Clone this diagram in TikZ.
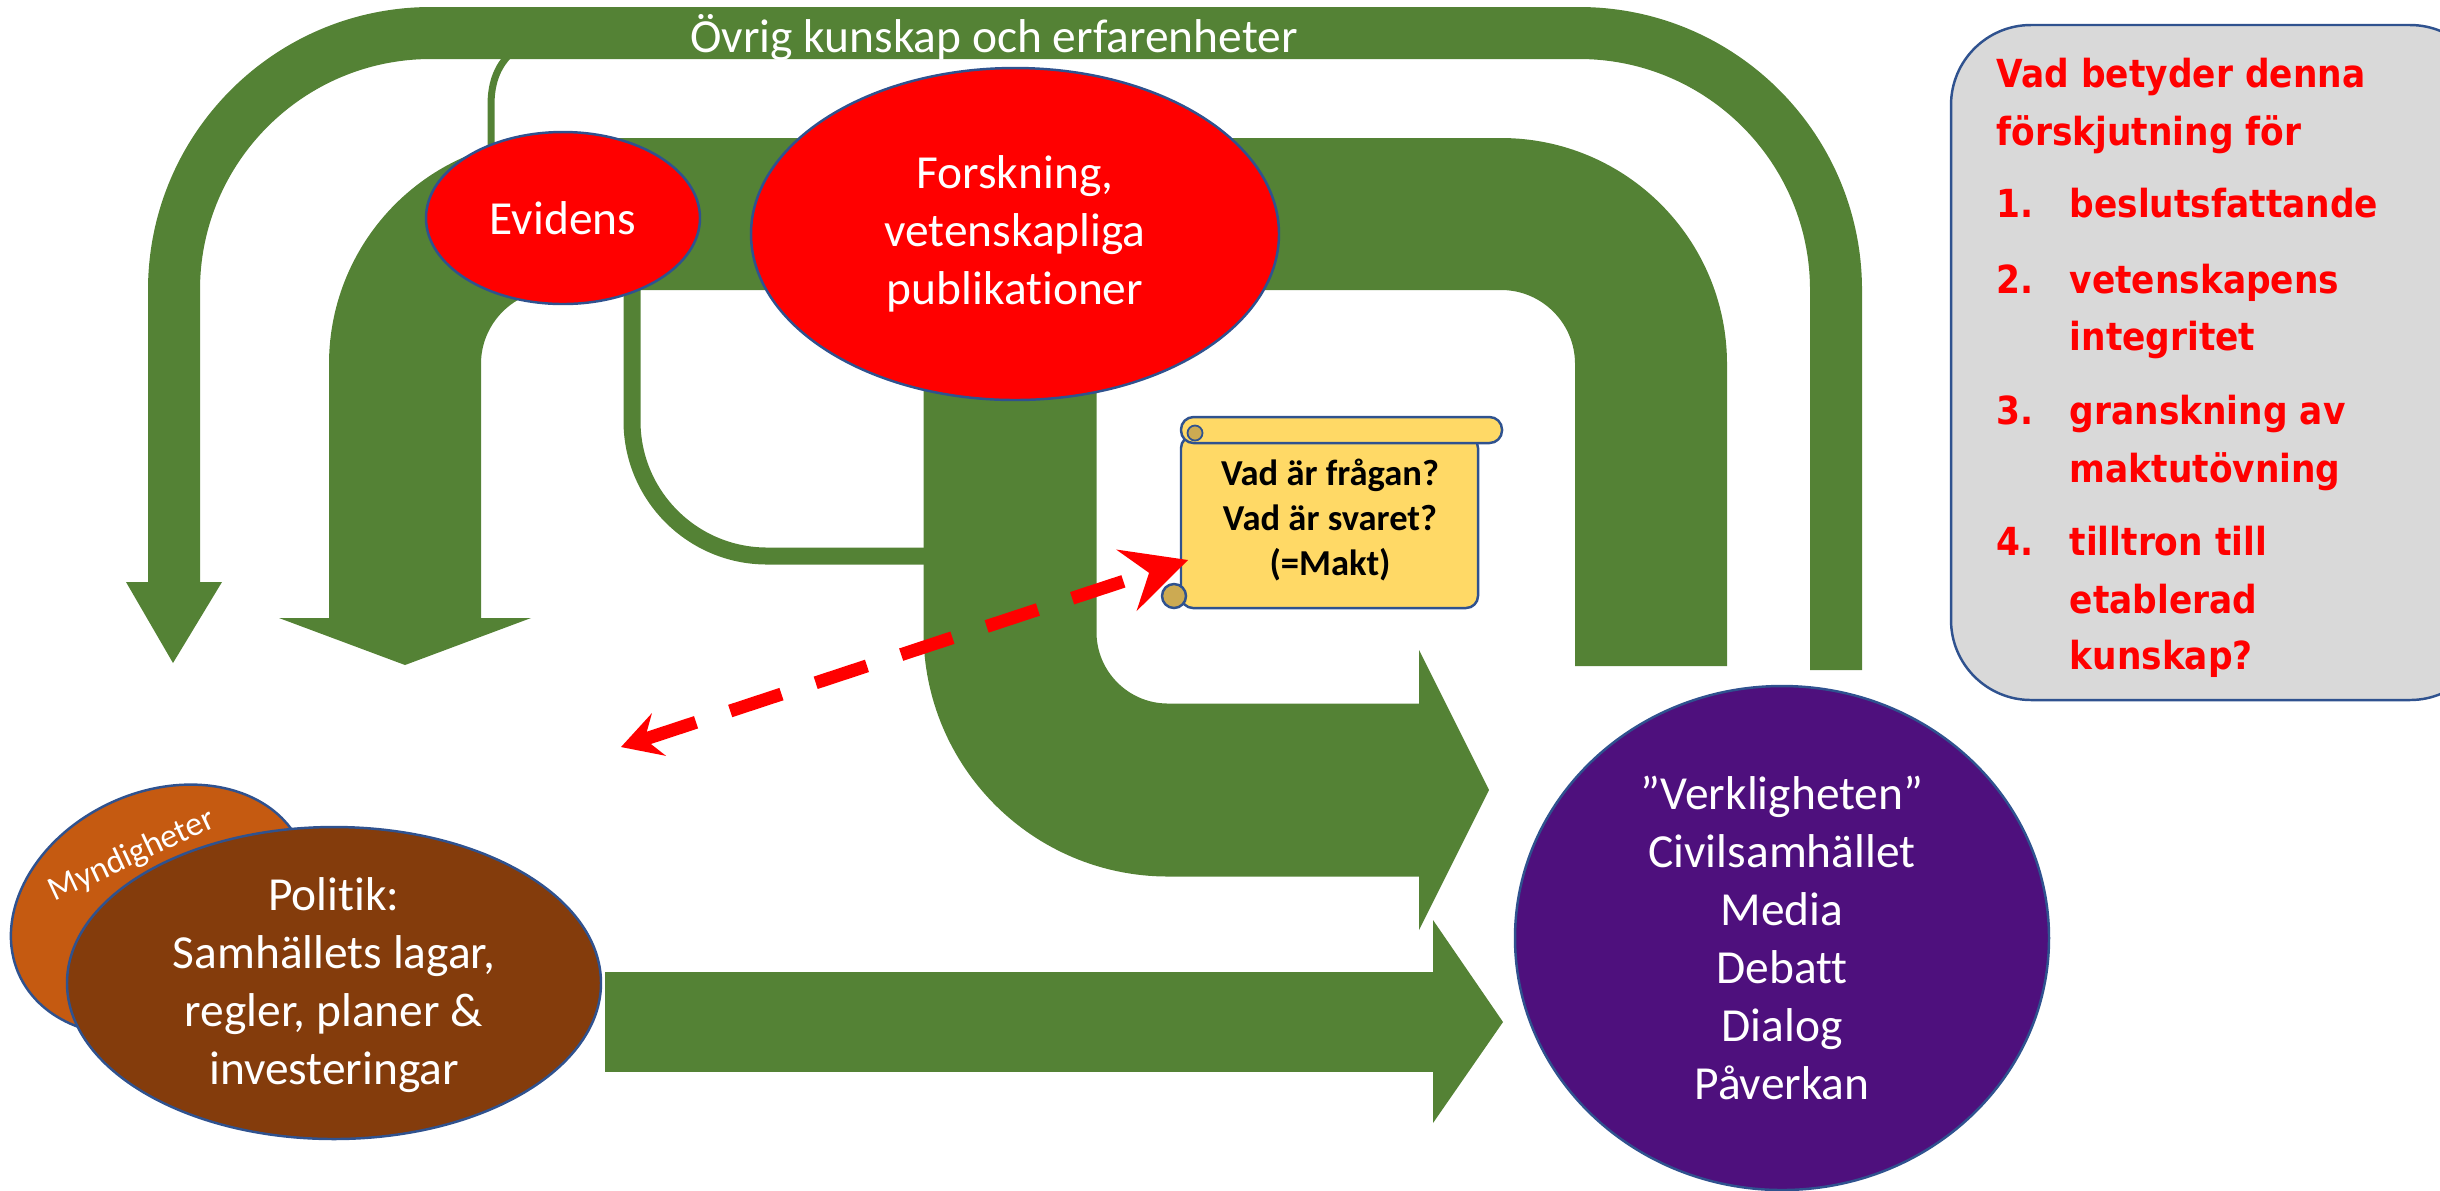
\documentclass[tikz,border=0pt]{standalone}
\usepackage{fontspec}
\setmainfont[Ligatures=NoCommon]{Carlito}
\newfontfamily\boxfont[FakeStretch=0.89]{DejaVu Sans}
\usetikzlibrary{shapes.geometric,arrows.meta}

\definecolor{bandgreen}{HTML}{548235}
\definecolor{rimblue}{HTML}{2F528F}
\definecolor{politikbrown}{HTML}{843C0C}
\definecolor{myndorange}{HTML}{C55A11}
\definecolor{realpurple}{HTML}{4E107D}
\definecolor{scrollyellow}{HTML}{FFD966}
\definecolor{scrollcurl}{HTML}{CCAA52}
\definecolor{boxgray}{HTML}{D9D9D9}

\newcommand{\mainsize}{\fontsize{13.5}{16.5}\selectfont}
\newcommand{\myndsize}{\fontsize{9.7}{11}\selectfont}
\newcommand{\scrollsize}{\fontsize{10.4}{12.8}\selectfont}
\newcommand{\listsize}{\fontsize{11}{14}\selectfont}

\tikzset{
	flowband/.style={draw=bandgreen, line width=#1, line cap=butt},
	tiphead/.style={fill=bandgreen},
	blob/.style={ellipse, draw=rimblue, line width=0.7pt, inner sep=-2mm, text=white, align=center, font=\mainsize},
	scrollbox/.style={fill=scrollyellow, draw=rimblue, line width=0.7pt},
	listline/.style={anchor=base west, text=red, inner sep=0pt, font=\boxfont\bfseries\listsize},
}

\begin{document}
\begin{tikzpicture}[x=0.1mm, y=-0.1mm]
	\useasboundingbox (0,0) rectangle (2440,1190);

	% green flows
	\draw[flowband=5.2mm, rounded corners=25.7mm] (1836,670) -- (1836,33) -- (174,33) -- (174,582);
	\fill[tiphead] (126,582) -- (222,582) -- (173,663) -- cycle;
	\node[text=white, font=\mainsize, anchor=base] (ovrig) at (994,52) {Övrig kunskap och erfarenheter};

	\draw[flowband=15.2mm, rounded corners=15mm] (1651,666) -- (1651,214) -- (405,214) -- (405,618);
	\fill[tiphead] (279,618) -- (531,618) -- (405,665) -- cycle;

	\draw[flowband=0.7mm] (491,160) -- (491,105) .. controls (491,80) and (499,64) .. (512,52);
	\draw[flowband=1.7mm, rounded corners=13.5mm] (632,285) -- (632,556) -- (935,556);

	\draw[flowband=17.3mm, rounded corners=15.8mm] (1010,300) -- (1010,790) -- (1421,790);
	\fill[tiphead] (1419,650) -- (1489,790) -- (1419,930) -- cycle;

	\fill[bandgreen] (605,972) rectangle (1434,1072);
	\fill[tiphead] (1433,920) -- (1503,1022) -- (1433,1123) -- cycle;

	% ellipses
	\node[blob, fill=red, minimum width=27.4mm, minimum height=17.2mm] (evidens) at (563,218) {Evidens};
	\node[blob, fill=red, minimum width=52.8mm, minimum height=33.2mm] (forskning) at (1015,234) {Forskning,\\vetenskapliga\\publikationer};

	\filldraw[fill=myndorange, draw=rimblue, line width=0.7pt, rotate around={25:(160,910)}]
		(160,910) ellipse[x radius=15.5mm, y radius=11.8mm];
	\node[text=white, font=\myndsize, rotate=25, inner sep=0pt] (myndtext) at (132,856) {Myndigheter};
	\node[blob, fill=politikbrown, minimum width=53.4mm, minimum height=31.2mm] (politik) at (334,983) {};
	\node[text=white, font=\mainsize, align=center, inner sep=0pt] (politiktext) at (334,985) {Politik:\\Samhällets lagar,\\regler, planer \&\\investeringar};

	\node[blob, fill=realpurple, minimum width=53.4mm, minimum height=50.4mm] (verklighet) at (1782,938) {”Verkligheten”\\Civilsamhället\\Media\\Debatt\\Dialog\\Påverkan};

	% scroll
	\filldraw[scrollbox, rounded corners=1.2mm] (1181,436) rectangle (1478,608);
	\filldraw[scrollbox, rounded corners=1.25mm] (1181,417) rectangle (1502,443);
	\filldraw[fill=scrollcurl, draw=rimblue, line width=0.5pt] (1195,433) circle[radius=0.75mm];
	\filldraw[fill=scrollcurl, draw=rimblue, line width=0.7pt] (1174,596) circle[radius=1.2mm];
	\node[font=\bfseries\scrollsize, align=center] (question) at (1330,520) {Vad är frågan?\\Vad är svaret?\\(=Makt)};

	\coordinate (dashstart) at (621,747);
	\coordinate (dashend) at (1188,560);
	\draw[red, line width=1.3mm, dash pattern=on 5.4mm off 3.6mm,
		{Stealth[length=4mm, width=4.5mm, inset=1.5mm, line width=0pt]}-{Stealth[length=6.5mm, width=6.5mm, inset=2.4mm, line width=0pt]}]
		(dashstart) -- (dashend);

	% question box
	\filldraw[fill=boxgray, draw=rimblue, line width=0.7pt, rounded corners=8mm] (1951,25) rectangle (2490,700);
	\node[listline] (head1) at (1996,87) {Vad betyder denna};
	\node[listline] (head2) at (1996,145) {förskjutning för};
	\foreach \n/\y in {1/217, 2/293, 3/424, 4/555}
		\node[listline] (num\n) at (1996,\y) {\n.};
	\node[listline] (item1) at (2069,217) {beslutsfattande};
	\node[listline] (item2a) at (2069,293) {vetenskapens};
	\node[listline] (item2b) at (2069,350) {integritet};
	\node[listline] (item3a) at (2069,424) {granskning av};
	\node[listline] (item3b) at (2069,482) {maktutövning};
	\node[listline] (item4a) at (2069,555) {tilltron till};
	\node[listline] (item4b) at (2069,613) {etablerad};
	\node[listline] (item4c) at (2069,669) {kunskap?};
\end{tikzpicture}
\end{document}
